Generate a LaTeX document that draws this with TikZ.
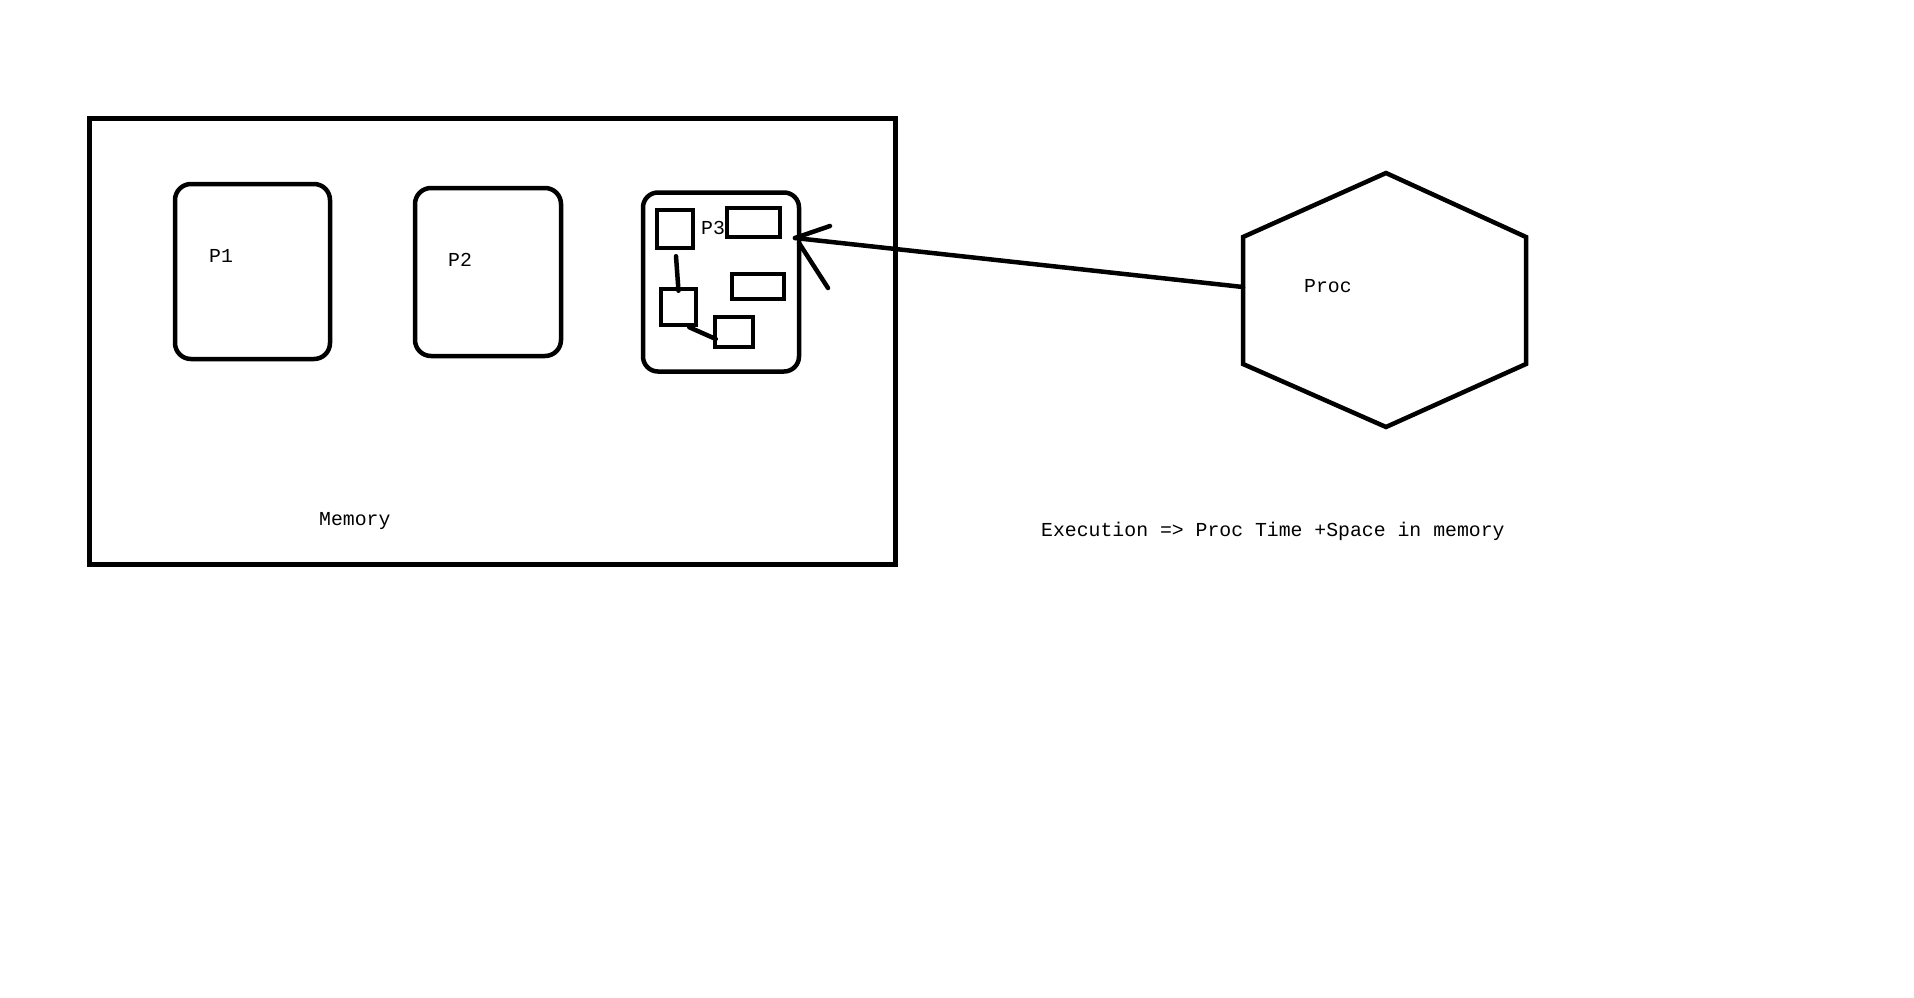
\documentclass[tikz,border=0pt]{standalone}
\usepackage{fontspec}
\setmonofont{Liberation Mono}
\begin{document}
\begin{tikzpicture}[x=1pt,y=-1pt,
  lbl/.style={font=\ttfamily\fontsize{19.8}{22}\selectfont, inner sep=0pt, anchor=base west},
  memstyle/.style={draw, line width=5pt, rectangle, inner sep=0pt},
  pbox/.style={draw, line width=4.5pt, rectangle, rounded corners=16pt, inner sep=0pt},
  sbox/.style={draw, line width=4.5pt, rectangle, inner sep=0pt},
  conn/.style={line width=4.5pt, line cap=round}]
\useasboundingbox (0,0) rectangle (1914,997);
% memory
\node[memstyle, minimum width=806pt, minimum height=446pt] (mem) at (492,341.5) {};
\node[lbl] (memlbl) at (319,525) {Memory};
% processes
\node[pbox, minimum width=155pt, minimum height=175pt] (p1) at (252.5,271.5) {};
\node[lbl] (p1lbl) at (209,262) {P1};
\node[pbox, minimum width=146pt, minimum height=168pt] (p2) at (488,272) {};
\node[lbl] (p2lbl) at (448,266) {P2};
\node[pbox, rounded corners=15pt, minimum width=156pt, minimum height=179pt] (p3) at (721,282) {};
\node[lbl] (p3lbl) at (701,234) {P3};
% inner boxes of P3
\node[sbox, minimum width=36pt, minimum height=38pt] (a) at (675,229) {};
\node[sbox, minimum width=53pt, minimum height=29pt] (b) at (753.5,222.5) {};
\node[sbox, minimum width=52pt, minimum height=25pt] (c) at (758,286.5) {};
\node[sbox, minimum width=35pt, minimum height=36pt] (d) at (678.5,307) {};
\node[sbox, minimum width=38pt, minimum height=30pt] (e) at (734,332) {};
\draw[conn] ([yshift=-6pt,xshift=1pt]a.south) -- ([yshift=-4pt]d.north);
\draw[conn] ([xshift=-9pt]d.south east) -- ([xshift=3pt,yshift=-7pt]e.west);
% processor hexagon
\coordinate (h1) at (1386,173);
\coordinate (h2) at (1526,237);
\coordinate (h3) at (1526,364);
\coordinate (h4) at (1386,427);
\coordinate (h5) at (1243,364);
\coordinate (h6) at (1243,237);
\draw[line width=4.5pt, line join=miter] (h1) -- (h2) -- (h3) -- (h4) -- (h5) -- (h6) -- cycle;
\node[lbl] (proclbl) at (1304,292) {Proc};
\coordinate (procw) at (1243,287);
% arrow to P3
\coordinate (tip) at (795,238);
\coordinate (barbup) at (830,226);
\coordinate (barblow) at (828,288);
\draw[conn] (procw) -- (tip);
\draw[conn] (tip) -- (barbup);
\draw[conn] ([xshift=4pt,yshift=-5pt]tip) -- (barblow);
% caption
\node[lbl] (exec) at (1041,536) {Execution => Proc Time +Space in memory};
\end{tikzpicture}
\end{document}
